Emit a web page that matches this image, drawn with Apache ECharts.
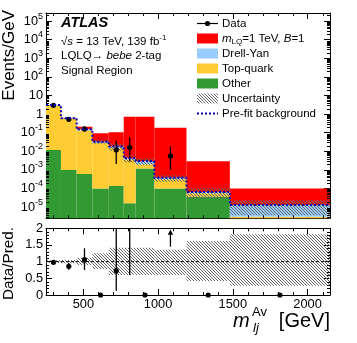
<!DOCTYPE html>
<html>
<head>
<meta charset="utf-8">
<title>LQLQ bebe 2-tag signal region</title>
<script src="https://cdn.jsdelivr.net/npm/echarts@6.0.0/dist/echarts.min.js"></script>
<style>
    html, body {margin: 0; padding: 0; background: #fff;}
    #chart1 {width: 357px; height: 343px;}
</style>
</head>
<body>
<div id="chart1"></div>
<script>
// m_lj^Av bin edges (GeV)
var binEdges = [250, 350, 455, 560, 670, 770, 850, 975, 1190, 1480, 2150];
// backgrounds in Events/GeV, stacked bottom to top
var otherBkg = [0.0118, 0.001, 0.0006, 0.0001, 0.000135, 0.000016, 0.0012, 0.0001, 0.000036, 0];
var topQuark = [2.79, 0.539, 0.133, 0.0279, 0.0154, 0.00358, 0.0008, 0.00022, 0.000019, 0.000003];
var drellYan = [0.25, 0.06, 0.018, 0.005, 0.0025, 0.0006, 0.001, 0.00006, 0.00001, 0.00001];
var signalLQ = [0.01, 0.02, 0.058, 0.06, 0.087, 0.716, 0.716, 0.186, 0.0029, 0.000087];
var preFitBkg = [3.05, 0.6, 0.152, 0.033, 0.018, 0.0042, 0.003, 0.00038, 0.000065, 0.000013];
// uncertainty band, relative to the prediction
var uncHigh = [1.04, 1.05, 1.12, 1.25, 1.42, 1.42, 1.42, 1.36, 1.62, 1.82];
var uncLow = [0.96, 0.95, 0.9, 0.78, 0.6, 0.6, 0.6, 0.6, 0.42, 0.28];
// data in Events/GeV (0 = no events)
var dataVals = [2.95, 0.525, 0.16, 0, 0.0118, 0.0164, 0, 0.0056, 0, 0];
var dataHigh = [3.1, 0.59, 0.21, 0, 0.037, 0.056, 0, 0.019, 0, 0];
var dataLow = [2.8, 0.465, 0.115, 0, 0.0021, 0.0028, 0, 0.001, 0, 0];
// Data/Pred.
var ratioVals = [0.98, 0.86, 1.06, 0, 0.73, 3.9, 0, 14.7, 0, 0];
var ratioHigh = [1.03, 0.96, 1.4, 0, 2.5, 13, 0, 40, 0, 0];
var ratioLow = [0.93, 0.76, 0.75, 0, 0.13, 0.6, 0, 1.45, 0, 0];
var ratioArrow = [0, 0, 0, 0, 0, 0, 0, 1, 0, 0];
// axes
var xRange = [250, 2150];
var xTickLabels = [500, 1000, 1500, 2000];
var yLogExp = [-5.6, 5.435];
var ratioRange = [0, 2];
var ratioArrowAt = 1.88;

var FONT = "'Liberation Sans', Arial, Helvetica, sans-serif";
var C_SIG = '#ff0000', C_DY = '#99ccff', C_TOP = '#ffcc33', C_OTHER = '#339933', C_PREFIT = '#0000aa';
var Y_FLOOR = 1e-9;

function makeHatch(color, step) {
    var c = document.createElement('canvas');
    c.width = step;
    c.height = step;
    var ctx = c.getContext('2d');
    ctx.strokeStyle = color;
    ctx.lineWidth = 1;
    ctx.beginPath();
    ctx.moveTo(-1, -1); ctx.lineTo(step + 1, step + 1);
    ctx.moveTo(-1, step - 1); ctx.lineTo(1, step + 1);
    ctx.moveTo(step - 1, -1); ctx.lineTo(step + 1, 1);
    ctx.stroke();
    return {image: c, repeat: 'repeat'};
}
var hatch = makeHatch('#666666', 3);

function sumArr(a, b) {
    return a.map(function (v, i) { return v + b[i]; });
}
var lvlTop = sumArr(otherBkg, topQuark);
var lvlDY = sumArr(lvlTop, drellYan);
var lvlSig = sumArr(lvlDY, signalLQ);
var zeros = otherBkg.map(function () { return 0; });
var uncMainLow = lvlDY.map(function (v, i) { return v * uncLow[i]; });
var uncMainHigh = lvlDY.map(function (v, i) { return v * uncHigh[i]; });

function binItems(lows, highs) {
    var items = [];
    for (var i = 0; i < binEdges.length - 1; i++) {
        items.push([binEdges[i], binEdges[i + 1], lows[i], highs[i]]);
    }
    return items;
}
function binCenter(i) {
    return (binEdges[i] + binEdges[i + 1]) / 2;
}

function boxRenderer(fill) {
    return function (params, api) {
        var lo = Math.max(api.value(2), Y_FLOOR);
        var hi = api.value(3);
        if (!(hi > lo)) return;
        var p0 = api.coord([api.value(0), hi]);
        var p1 = api.coord([api.value(1), lo]);
        return {
            type: 'rect',
            shape: {x: p0[0], y: p0[1], width: p1[0] - p0[0], height: p1[1] - p0[1]},
            style: {fill: fill}
        };
    };
}

function renderData(params, api) {
    var x = api.value(0), v = api.value(1);
    if (!(v > 0)) return;
    var pv = api.coord([x, v]);
    var ph = api.coord([x, api.value(3)]);
    var pl = api.coord([x, api.value(2)]);
    return {
        type: 'group',
        children: [
            {type: 'line', shape: {x1: pv[0], y1: pl[1], x2: pv[0], y2: ph[1]}, style: {stroke: '#000', lineWidth: 1.3}},
            {type: 'circle', shape: {cx: pv[0], cy: pv[1], r: 2.6}, style: {fill: '#000'}}
        ]
    };
}

function renderRatio(params, api) {
    var x = api.value(0), v = api.value(1), lo = api.value(2), hi = api.value(3);
    var children = [];
    if (api.value(4)) {
        var pt = api.coord([x, ratioArrowAt]);
        var pb = api.coord([x, lo]);
        children.push({type: 'line', shape: {x1: pt[0], y1: pb[1], x2: pt[0], y2: pt[1]}, style: {stroke: '#000', lineWidth: 1.3}});
        children.push({type: 'polygon', shape: {points: [[pt[0] - 2.7, pt[1] + 2.5], [pt[0] + 2.7, pt[1] + 2.5], [pt[0], pt[1] - 2.8]]}, style: {fill: '#000'}});
    } else {
        if (hi > lo) {
            var a = api.coord([x, Math.max(lo, ratioRange[0])]);
            var b = api.coord([x, Math.min(hi, ratioRange[1])]);
            children.push({type: 'line', shape: {x1: a[0], y1: a[1], x2: b[0], y2: b[1]}, style: {stroke: '#000', lineWidth: 1.3}});
        }
        if (v <= ratioRange[1]) {
            var p = api.coord([x, v]);
            children.push({type: 'circle', shape: {cx: p[0], cy: p[1], r: 2.6}, style: {fill: '#000'}});
        }
    }
    return {type: 'group', children: children};
}

// small inward ticks on all four frame sides
function renderTick(params, api) {
    var cs = params.coordSys;
    var p = api.coord([api.value(0), api.value(1)]);
    var len = 3;
    if (api.value(2) === 0) {
        var x = Math.round(p[0]) + 0.5;
        return {type: 'group', children: [
            {type: 'line', shape: {x1: x, y1: cs.y + cs.height, x2: x, y2: cs.y + cs.height - len}, style: {stroke: '#000', lineWidth: 1}},
            {type: 'line', shape: {x1: x, y1: cs.y, x2: x, y2: cs.y + len}, style: {stroke: '#000', lineWidth: 1}}
        ]};
    }
    var y = Math.round(p[1]) + 0.5;
    return {type: 'group', children: [
        {type: 'line', shape: {x1: cs.x, y1: y, x2: cs.x + len, y2: y}, style: {stroke: '#000', lineWidth: 1}},
        {type: 'line', shape: {x1: cs.x + cs.width, y1: y, x2: cs.x + cs.width - len, y2: y}, style: {stroke: '#000', lineWidth: 1}}
    ]};
}

function xMinorItems() {
    var out = [];
    for (var v = 300; v < xRange[1]; v += 100) {
        if (v % 500 !== 0) out.push([v, 1, 0]);
    }
    return out;
}
function mainMinorItems() {
    var out = xMinorItems();
    for (var e = Math.floor(yLogExp[0]); e <= Math.ceil(yLogExp[1]); e++) {
        for (var m = 2; m <= 9; m++) {
            var val = m * Math.pow(10, e);
            var le = Math.log(val) / Math.LN10;
            if (le > yLogExp[0] && le < yLogExp[1]) out.push([1000, val, 1]);
        }
    }
    return out;
}
function ratioMinorItems() {
    var out = xMinorItems();
    for (var k = 1; k < 20; k++) {
        if (k % 5 !== 0) out.push([1000, k / 10, 1]);
    }
    return out;
}

var dataItems = dataVals.map(function (v, i) { return [binCenter(i), v, dataLow[i], dataHigh[i]]; });
var ratioItems = ratioVals.map(function (v, i) { return [binCenter(i), v, ratioLow[i], ratioHigh[i], ratioArrow[i]]; });
var preFitLine = binEdges.map(function (e, i) { return [e, preFitBkg[Math.min(i, preFitBkg.length - 1)]]; });

function expLabel(v) {
    if (Math.abs(v - Math.round(v)) > 1e-6) return '';
    var e = Math.round(v);
    if (e === 0) return '1';
    if (e === 1) return '10';
    return '10{sup|' + e + '}';
}

var frameLine = {show: true, onZero: false, lineStyle: {color: '#000', width: 1}};

function xAxisDef(gridIndex, position, showLabels) {
    return {
        type: 'value', gridIndex: gridIndex, position: position,
        min: xRange[0], max: xRange[1], splitNumber: 4,
        axisLine: frameLine,
        axisTick: {show: true, inside: true, length: 6, lineStyle: {color: '#000'}},
        axisLabel: {
            show: showLabels, margin: 3, color: '#000', fontFamily: FONT, fontSize: 12.8,
            showMinLabel: false, showMaxLabel: false,
            formatter: function (v) { return xTickLabels.indexOf(v) >= 0 ? String(v) : ''; }
        },
        splitLine: {show: false}
    };
}
function expAxisDef(position, showLabels) {
    return {
        type: 'value', gridIndex: 0, position: position,
        min: yLogExp[0], max: yLogExp[1], splitNumber: 11,
        axisLine: frameLine,
        axisTick: {show: true, inside: true, length: 6, lineStyle: {color: '#000'}},
        axisLabel: {
            show: showLabels, margin: 3, color: '#000', fontFamily: FONT, fontSize: 12.8, lineHeight: 19,
            formatter: expLabel,
            rich: {sup: {fontFamily: FONT, fontSize: 9, color: '#000', verticalAlign: 'top', lineHeight: 9}}
        },
        splitLine: {show: false}
    };
}
function ratioAxisDef(position, showLabels) {
    return {
        type: 'value', gridIndex: 1, position: position,
        min: ratioRange[0], max: ratioRange[1], interval: 0.5,
        axisLine: frameLine,
        axisTick: {show: true, inside: true, length: 6, lineStyle: {color: '#000'}},
        axisLabel: {show: showLabels, margin: 3, color: '#000', fontFamily: FONT, fontSize: 12.8},
        splitLine: {show: false}
    };
}

function richFor(size) {
    return {
        it: {fontFamily: FONT, fontSize: size, fontStyle: 'italic', fill: '#000'},
        sup: {fontFamily: FONT, fontSize: Math.round(size * 0.7), fill: '#000', verticalAlign: 'top', lineHeight: Math.round(size * 0.7)},
        sub: {fontFamily: FONT, fontSize: Math.round(size * 0.7), fill: '#000', verticalAlign: 'bottom', lineHeight: Math.round(size * 0.7)}
    };
}
function txt(str, x, y, size, extra) {
    var st = {text: str, fill: '#000', fontFamily: FONT, fontSize: size, align: 'left', verticalAlign: 'middle',
        lineHeight: Math.round(size * 1.3), rich: richFor(size)};
    for (var k in extra) st[k] = extra[k];
    return {type: 'text', x: x, y: y, style: st, silent: true, z: 100};
}

// legend block (top right)
var lx = 197, lw = 21, ly0 = 23.5, lstep = 15;
function rowY(i) { return ly0 + i * lstep; }
function swatch(i, fill) {
    return {type: 'rect', shape: {x: lx, y: rowY(i) - 5, width: lw, height: 10}, style: {fill: fill}, silent: true, z: 100};
}
var legendNames = ['Data', '{it|m}{sub|LQ}=1 TeV, {it|B}=1', 'Drell-Yan', 'Top-quark', 'Other', 'Uncertainty', 'Pre-fit background'];

var graphics = [
    {type: 'line', shape: {x1: lx, y1: rowY(0), x2: lx + lw, y2: rowY(0)}, style: {stroke: '#000', lineWidth: 1.2}, silent: true, z: 100},
    {type: 'circle', shape: {cx: lx + lw / 2, cy: rowY(0), r: 2.6}, style: {fill: '#000'}, silent: true, z: 100},
    swatch(1, C_SIG), swatch(2, C_DY), swatch(3, C_TOP), swatch(4, C_OTHER), swatch(5, hatch),
    {type: 'line', shape: {x1: lx, y1: rowY(6), x2: lx + lw, y2: rowY(6)}, style: {stroke: C_PREFIT, lineWidth: 2, lineDash: [2, 2]}, silent: true, z: 100},
    txt('ATLAS', 61, 23, 14.5, {fontWeight: 'bold', fontStyle: 'italic'}),
    txt('\u221A{it|s} = 13 TeV, 139 fb{sup|-1}', 61, 41.5, 11.5),
    txt('LQLQ\u2192 {it|bebe} 2-tag', 61, 55.5, 11.5),
    txt('Signal Region', 61, 71, 11.5),
    txt('Events/GeV', 9, 10, 17, {align: 'right'}),
    txt('Data/Pred.', 9, 227, 15.3, {align: 'right'}),
    txt('m', 233, 321, 20, {fontStyle: 'italic'}),
    txt('Av', 252, 312.5, 13),
    txt('lj', 253, 328, 13, {fontStyle: 'italic'}),
    txt('[GeV]', 330, 321, 20, {align: 'right'})
];
graphics[graphics.length - 6].rotation = Math.PI / 2;
graphics[graphics.length - 5].rotation = Math.PI / 2;
legendNames.forEach(function (name, i) {
    graphics.push(txt(name, 222, rowY(i), 11.5));
});

var myChart = echarts.init(document.getElementById('chart1'), null, {renderer: 'canvas'});
var option = {
    animation: false,
    backgroundColor: '#fff',
    textStyle: {fontFamily: FONT},
    grid: [
        {left: 46, top: 13, width: 284, height: 205.3, outerBoundsMode: 'none'},
        {left: 46, top: 228.3, width: 284, height: 66.7, outerBoundsMode: 'none'}
    ],
    xAxis: [
        xAxisDef(0, 'bottom', false),
        xAxisDef(0, 'top', false),
        xAxisDef(1, 'bottom', true),
        xAxisDef(1, 'top', false)
    ],
    yAxis: [
        {type: 'log', gridIndex: 0, show: false, min: Math.pow(10, yLogExp[0]), max: Math.pow(10, yLogExp[1])},
        expAxisDef('left', true),
        expAxisDef('right', false),
        ratioAxisDef('left', true),
        ratioAxisDef('right', false)
    ],
    series: [
        {name: 'Other', type: 'custom', xAxisIndex: 0, yAxisIndex: 0, clip: true, renderItem: boxRenderer(C_OTHER),
            encode: {x: [0, 1], y: [2, 3]}, data: binItems(zeros, otherBkg)},
        {name: 'Top-quark', type: 'custom', xAxisIndex: 0, yAxisIndex: 0, clip: true, renderItem: boxRenderer(C_TOP),
            encode: {x: [0, 1], y: [2, 3]}, data: binItems(otherBkg, lvlTop)},
        {name: 'Drell-Yan', type: 'custom', xAxisIndex: 0, yAxisIndex: 0, clip: true, renderItem: boxRenderer(C_DY),
            encode: {x: [0, 1], y: [2, 3]}, data: binItems(lvlTop, lvlDY)},
        {name: 'mLQ=1 TeV', type: 'custom', xAxisIndex: 0, yAxisIndex: 0, clip: true, renderItem: boxRenderer(C_SIG),
            encode: {x: [0, 1], y: [2, 3]}, data: binItems(lvlDY, lvlSig)},
        {name: 'Uncertainty', type: 'custom', xAxisIndex: 0, yAxisIndex: 0, clip: true, renderItem: boxRenderer(hatch),
            encode: {x: [0, 1], y: [2, 3]}, data: binItems(uncMainLow, uncMainHigh)},
        {name: 'Pre-fit background', type: 'line', xAxisIndex: 0, yAxisIndex: 0, step: 'end', symbol: 'none',
            lineStyle: {color: C_PREFIT, width: 2, type: [2, 2]}, data: preFitLine},
        {name: 'Data', type: 'custom', xAxisIndex: 0, yAxisIndex: 0, clip: true, renderItem: renderData,
            encode: {x: 0, y: 1}, data: dataItems},
        {name: 'mainTicks', type: 'custom', xAxisIndex: 0, yAxisIndex: 0, clip: false, renderItem: renderTick,
            encode: {x: 0, y: 1}, data: mainMinorItems()},

        {name: 'ratioUnc', type: 'custom', xAxisIndex: 2, yAxisIndex: 3, clip: true, renderItem: boxRenderer(hatch),
            encode: {x: [0, 1], y: [2, 3]}, data: binItems(uncLow, uncHigh)},
        {name: 'unity', type: 'line', xAxisIndex: 2, yAxisIndex: 3, symbol: 'none',
            lineStyle: {color: '#000', width: 1, type: [3, 2]}, data: [[xRange[0], 1], [xRange[1], 1]]},
        {name: 'ratio', type: 'custom', xAxisIndex: 2, yAxisIndex: 3, clip: false, renderItem: renderRatio,
            encode: {x: 0, y: 1}, data: ratioItems},
        {name: 'ratioTicks', type: 'custom', xAxisIndex: 2, yAxisIndex: 3, clip: false, renderItem: renderTick,
            encode: {x: 0, y: 1}, data: ratioMinorItems()}
    ],
    graphic: graphics
};
myChart.setOption(option);
</script>
</body>
</html>
